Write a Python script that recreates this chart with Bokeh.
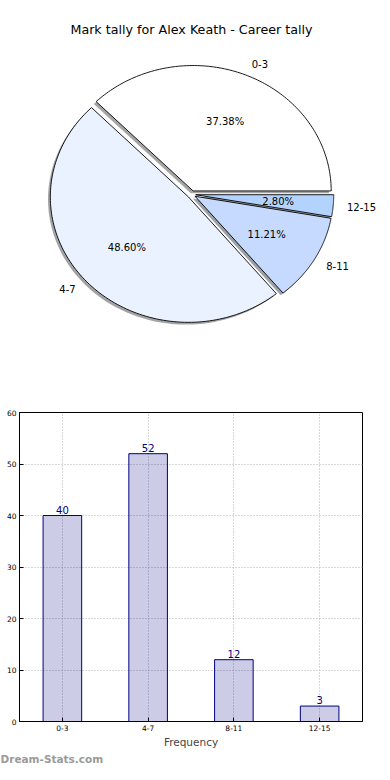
import numpy as np
from bokeh.plotting import figure
from bokeh.models import Range1d, FactorRange, FixedTicker, Title
from bokeh.embed import file_html
from bokeh.resources import INLINE
from bokeh.core.properties import value

# ---------------- data ----------------
title_text = "Mark tally for Alex Keath - Career tally"
categories = ["0-3", "4-7", "8-11", "12-15"]
counts = [40, 52, 12, 3]
pie_colors = ["#FFFFFF", "#EBF2FF", "#C6DAFF", "#B3D3FF"]
y_ticks = [0, 10, 20, 30, 40, 50, 60]
x_label = "Frequency"
watermark = "Dream-Stats.com"

# ---------------- layout constants ----------------
FONT = "DejaVu Sans"
W = 382
H_PIE = 387
H_BAR = 377
CX, CY = 191.0, 193.9      # pie centre (px from top-left of pie figure)
RX, RY = 138.1, 125.4      # pie radii in px (matplotlib non-equal aspect)
EXPLODE = 0.03
LABEL_R = 1.1
PCT_R = 0.6
SHADOW_PX = 2.3

# ---------------- pie ----------------
total = float(sum(counts))
fracs = [c / total for c in counts]
theta = np.concatenate([[0.0], np.cumsum(fracs)]) * 2 * np.pi

pie = figure(width=W, height=H_PIE, output_backend="svg", toolbar_location=None,
             x_range=Range1d(-CX / RX, (W - CX) / RX),
             y_range=Range1d(-(H_PIE - CY) / RY, CY / RY),
             x_axis_location=None, y_axis_location=None, min_border=0)
pie.grid.visible = False
pie.outline_line_color = None

wx, wy, sx, sy, shadow_cols = [], [], [], [], []
lab_x, lab_y, lab_align = [], [], []
pct_x, pct_y, pct_txt = [], [], []
for i in range(len(counts)):
    t0, t1 = theta[i], theta[i + 1]
    mid = 0.5 * (t0 + t1)
    ox, oy = EXPLODE * np.cos(mid), EXPLODE * np.sin(mid)
    t = np.linspace(t0, t1, 120)
    xs = np.concatenate([[ox], ox + np.cos(t)])
    ys = np.concatenate([[oy], oy + np.sin(t)])
    wx.append(list(xs)); wy.append(list(ys))
    sx.append(list(xs - SHADOW_PX / RX)); sy.append(list(ys - SHADOW_PX / RY))
    c = pie_colors[i].lstrip("#")
    rgb = [int(c[k:k + 2], 16) for k in (0, 2, 4)]
    shadow_cols.append("#%02x%02x%02x" % tuple(int(0.3 * v) for v in rgb))
    lx = ox + LABEL_R * np.cos(mid)
    ly = oy + LABEL_R * np.sin(mid)
    lab_x.append(lx); lab_y.append(ly)
    lab_align.append("left" if lx > 0 else "right")
    pct_x.append(ox + PCT_R * np.cos(mid)); pct_y.append(oy + PCT_R * np.sin(mid))
    pct_txt.append("%.2f%%" % (fracs[i] * 100))

pie.patches(xs=sx, ys=sy, fill_color=shadow_cols, fill_alpha=0.5, line_color=None)
pie.patches(xs=wx, ys=wy, fill_color=pie_colors, line_color="black", line_width=0.9)

pie.text(x=lab_x, y=lab_y, text=categories, text_align=lab_align, text_baseline="middle",
         text_font=value(FONT), text_font_size="10px", text_color="black")
pie.text(x=pct_x, y=pct_y, text=pct_txt, text_align="center", text_baseline="middle",
         text_font=value(FONT), text_font_size="10px", text_color="black")
pie.text(x=[(W / 2 - CX) / RX], y=[(CY - 29.4) / RY], text=[title_text],
         text_align="center", text_baseline="middle",
         text_font=value(FONT), text_font_size="12.7px", text_color="black")

# ---------------- bar ----------------
bar = figure(width=W, height=H_BAR, output_backend="svg", toolbar_location=None,
             x_range=FactorRange(factors=categories, range_padding=0),
             y_range=Range1d(y_ticks[0], y_ticks[-1]),
             min_border_left=19, min_border_right=20, min_border_top=25, min_border_bottom=39)

bar.vbar(x=categories, top=counts, width=0.45, fill_color="navy", fill_alpha=0.2,
         line_color="navy", line_width=1)
bar.text(x=categories, y=counts, text=[str(c) for c in counts], text_align="center",
         text_baseline="bottom", y_offset=-2, text_color="navy",
         text_font=value(FONT), text_font_size="10px")

bar.yaxis.ticker = FixedTicker(ticks=y_ticks)
for ax in bar.axis:
    ax.major_tick_in = 4
    ax.major_tick_out = 0
    ax.minor_tick_in = 0
    ax.minor_tick_out = 0
    ax.major_label_text_font = FONT
    ax.major_label_text_font_size = "7.5px"
    ax.major_label_text_color = "black"
    ax.major_label_standoff = 3
    ax.axis_line_color = "black"
    ax.major_tick_line_color = "black"
bar.xaxis.axis_label = x_label
bar.xaxis.axis_label_text_font = FONT
bar.xaxis.axis_label_text_font_size = "10.5px"
bar.xaxis.axis_label_text_font_style = "normal"
bar.xaxis.axis_label_standoff = 2

bar.grid.grid_line_color = "#b0b0b0"
bar.grid.grid_line_dash = "1 2"
bar.grid.grid_line_width = 1
bar.outline_line_color = "black"
bar.outline_line_alpha = 1

bar.add_layout(Title(text=watermark, align="left", text_font=FONT, text_font_size="10.5px",
                     text_font_style="bold", text_color="#9a9a9a", offset=-19, standoff=0),
               "below")

open("out.html", "w").write(file_html([pie, bar], INLINE))
